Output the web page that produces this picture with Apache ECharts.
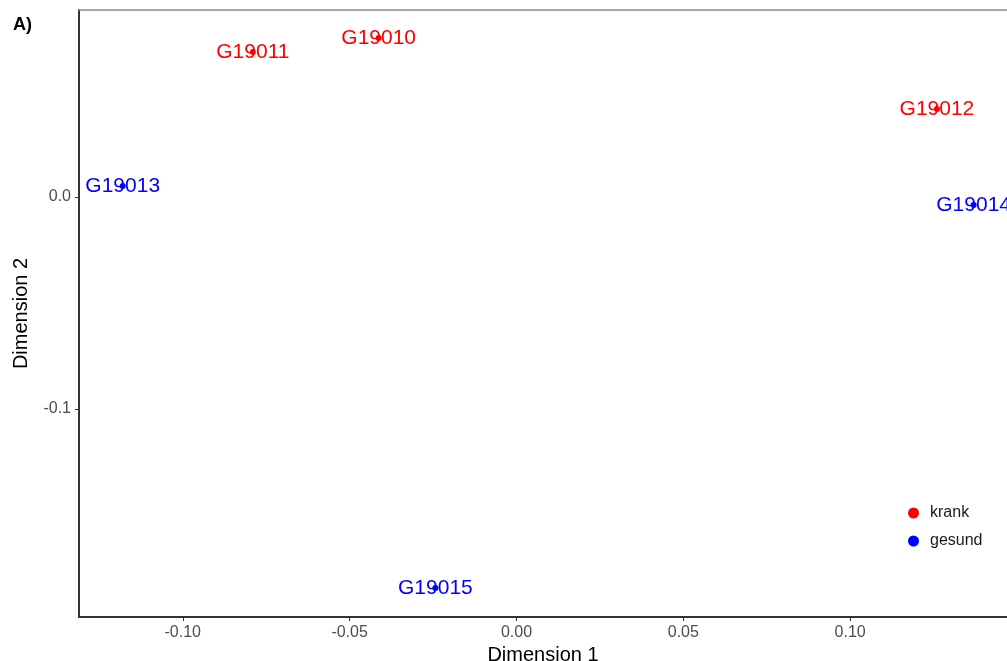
<!DOCTYPE html>
<html><head><meta charset="utf-8">
<script src="https://cdn.jsdelivr.net/npm/echarts@6/dist/echarts.min.js"></script>
<style>html,body{margin:0;padding:0;background:#fff}#c{width:1007px;height:661px}</style>
</head><body><div id="c"></div>
<script>
const sampleNames = ["G19010","G19011","G19012","G19013","G19014","G19015"];
const groups = ["krank","krank","krank","gesund","gesund","gesund"];
const dim1 = [-0.0413,-0.0790,0.1260,-0.1180,0.1370,-0.0243];
const dim2 = [0.0750,0.0684,0.0415,0.0052,-0.0038,-0.1844];
const xTicks = [-0.10,-0.05,0.00,0.05,0.10];
const yTicks = [0.0,-0.1];
const groupNames = ["krank","gesund"];
const groupColors = {krank:"#ff0000", gesund:"#0000ff"};

const chart = echarts.init(document.getElementById('c'));
const series = groupNames.map(g => ({
  name: g, type: 'scatter', symbol: 'circle', symbolSize: 6,
  itemStyle: {color: groupColors[g], opacity: 1},
  emphasis: {disabled: true},
  label: {show: true, position: 'inside', formatter: p => p.data[2],
    color: groupColors[g], opacity: 1, fontFamily: 'Liberation Sans', fontSize: 21},
  data: sampleNames.map((n,i)=>[dim1[i],dim2[i],n,groups[i]]).filter(d=>d[3]===g),
  clip: false
}));
chart.setOption({
  animation: false,
  backgroundColor: '#fff',
  grid: {left: 79, right: 0, top: 10, bottom: 44, containLabel: false, outerBoundsMode: 'none'},
  title: {text: 'A)', left: 8, top: 11, textStyle: {fontFamily: 'Liberation Sans', fontWeight: 'bold', fontSize: 18, color: '#000'}},
  legend: {
    data: groupNames, orient: 'vertical', left: 903, top: 500, itemGap: 12,
    icon: 'circle', itemWidth: 11, itemHeight: 11,
    textStyle: {fontFamily: 'Liberation Sans', fontSize: 16, color: '#1a1a1a', padding: [0,0,0,6]}
  },
  xAxis: [{
    type: 'value', min: -0.1311, max: 0.147, position: 'bottom',
    name: 'Dimension 1', nameLocation: 'middle', nameGap: 25,
    nameTextStyle: {fontFamily: 'Liberation Sans', fontSize: 20, color: '#000'},
    splitLine: {show: false},
    axisLine: {show: true, onZero: false, lineStyle: {color: '#333', width: 2}},
    axisTick: {show: true, length: 4, lineStyle: {color: '#333'}, customValues: xTicks},
    axisLabel: {customValues: xTicks, formatter: v => v.toFixed(2), margin: 8,
      fontFamily: 'Liberation Sans', fontSize: 16, color: '#4d4d4d'}
  },{
    type: 'value', min: -0.1311, max: 0.147, position: 'top',
    axisLine: {show: true, onZero: false, lineStyle: {color: '#8a8a8a', width: 1.5}},
    axisTick: {show: false}, axisLabel: {show: false}, splitLine: {show: false}
  }],
  yAxis: {
    type: 'value', min: -0.1981, max: 0.0882,
    name: 'Dimension 2', nameLocation: 'middle', nameGap: 48, nameRotate: 90,
    nameTextStyle: {fontFamily: 'Liberation Sans', fontSize: 20, color: '#000'},
    splitLine: {show: false},
    axisLine: {show: true, onZero: false, lineStyle: {color: '#333', width: 2}},
    axisTick: {show: true, length: 4, lineStyle: {color: '#333'}, customValues: yTicks},
    axisLabel: {customValues: yTicks, formatter: v => v.toFixed(1), margin: 8,
      fontFamily: 'Liberation Sans', fontSize: 16, color: '#4d4d4d'}
  },
  series: series
});
</script></body></html>
